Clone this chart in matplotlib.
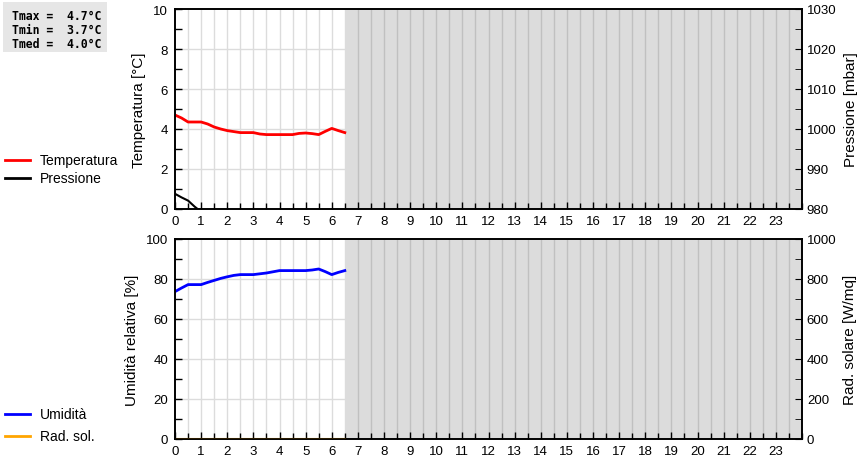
import matplotlib
matplotlib.use("Agg")
import matplotlib.pyplot as plt
from matplotlib.lines import Line2D
from matplotlib.patches import Rectangle
from matplotlib.ticker import MultipleLocator
import numpy as np

hours = [0, 0.25, 0.5, 0.75, 1.0, 1.25, 1.5, 1.75, 2.0, 2.25, 2.5, 2.75, 3.0, 3.25,
         3.5, 3.75, 4.0, 4.25, 4.5, 4.75, 5.0, 5.25, 5.5, 5.75, 6.0, 6.25, 6.5]
temperatura = [4.70, 4.55, 4.35, 4.35, 4.35, 4.25, 4.10, 4.00, 3.92, 3.87, 3.82, 3.82,
               3.82, 3.75, 3.72, 3.72, 3.72, 3.72, 3.72, 3.78, 3.80, 3.77, 3.72, 3.88,
               4.03, 3.92, 3.82]
pressione_hours = [0, 0.25, 0.5, 0.75, 1.0]
pressione = [983.8, 982.9, 982.1, 980.6, 979.3]
umidita = [73.7, 75.5, 77.2, 77.2, 77.2, 78.3, 79.3, 80.3, 81.1, 81.8, 82.2, 82.2,
           82.2, 82.6, 83.0, 83.6, 84.2, 84.2, 84.2, 84.2, 84.2, 84.5, 85.0, 83.7,
           82.2, 83.3, 84.2]
rad_sol = [0, 0, 0, 0, 0, 0, 0, 0, 0, 0, 0, 0, 0, 0, 0, 0, 0, 0, 0, 0, 0, 0, 0, 0,
           0, 0, 0]
hour_labels = [str(h) for h in range(24)]
stats_lines = ["Tmax =  4.7°C", "Tmin =  3.7°C", "Tmed =  4.0°C"]

plt.rcParams['font.family'] = ['Liberation Sans', 'DejaVu Sans']

W, H = 860, 460
fig = plt.figure(figsize=(8.6, 4.6), dpi=100)

def fx(px):
    return px / W

def fy(py):
    return 1 - py / H

left, right = 175, 802
ax1 = fig.add_axes([fx(left), fy(210), fx(right - left), (210 - 10) / H])
ax2 = fig.add_axes([fx(left), fy(440), fx(right - left), (440 - 240) / H])

now = 6.5
TICK_FS = 9.5
LABEL_FS = 11

def style(ax, ymin, ymax, major, minor):
    ax.set_xlim(0, 24)
    ax.set_ylim(ymin, ymax)
    ax.set_xticks(range(24))
    ax.set_xticklabels(hour_labels)
    ax.xaxis.set_minor_locator(MultipleLocator(0.5))
    ax.yaxis.set_major_locator(MultipleLocator(major))
    ax.yaxis.set_minor_locator(MultipleLocator(minor))
    ax.tick_params(which='both', direction='in', labelsize=TICK_FS, length=5, width=1)
    ax.tick_params(axis='x', which='minor', length=4)
    ax.tick_params(axis='x', pad=4)
    ax.tick_params(axis='y', pad=5)
    ax.set_axisbelow(False)
    # grid in the white (elapsed) part
    for xv in np.arange(0.5, now + 0.01, 0.5):
        ax.axvline(xv, color='#dcdcdc', lw=1, zorder=1)
    for yv in np.arange(ymin + major, ymax, major):
        ax.axhline(yv, color='#dcdcdc', lw=1, zorder=1)
    ax.axvspan(now, 24, color='#dcdcdc', zorder=1.2, lw=0)
    for xv in np.arange(now + 0.5, 24, 0.5):
        ax.axvline(xv, color='#c0c0c0', lw=1, zorder=1.3)
    for s in ax.spines.values():
        s.set_linewidth(1.2)
        s.set_zorder(5)

style(ax1, 0, 10, 2, 1)
style(ax2, 0, 100, 20, 10)

ax1.plot(hours, temperatura, color='#ff0000', lw=2, zorder=3)
ax1.set_ylabel('Temperatura [°C]', fontsize=LABEL_FS, labelpad=5)
ax1b = ax1.twinx()
ax1b.set_ylim(980, 1030)
ax1b.yaxis.set_major_locator(MultipleLocator(10))
ax1b.yaxis.set_minor_locator(MultipleLocator(5))
ax1b.tick_params(which='both', direction='in', labelsize=TICK_FS, length=5)
ax1b.plot(pressione_hours, pressione, color='#000000', lw=1.5, zorder=2)
ax1b.set_ylabel('Pressione [mbar]', fontsize=LABEL_FS, labelpad=5)

ax2.plot(hours, umidita, color='#0000ff', lw=2, zorder=3)
ax2.set_ylabel('Umidità relativa [%]', fontsize=LABEL_FS, labelpad=5)
ax2b = ax2.twinx()
ax2b.set_ylim(0, 1000)
ax2b.yaxis.set_major_locator(MultipleLocator(200))
ax2b.yaxis.set_minor_locator(MultipleLocator(100))
ax2b.tick_params(which='both', direction='in', labelsize=TICK_FS, length=5)
ax2b.plot(hours, rad_sol, color='#ffa500', lw=1.5, zorder=2)
ax2b.set_ylabel('Rad. solare [W/mq]', fontsize=LABEL_FS, labelpad=5)

for a in (ax1b, ax2b):
    for s in a.spines.values():
        s.set_linewidth(1.2)
        s.set_zorder(5)

# legends at the left
def legend_item(y, color, label):
    fig.add_artist(Line2D([fx(5), fx(30)], [fy(y), fy(y)], color=color, lw=2,
                          transform=fig.transFigure))
    fig.text(fx(40), fy(y), label, fontsize=10, va='center', ha='left')

legend_item(161, '#ff0000', 'Temperatura')
legend_item(179, '#000000', 'Pressione')
legend_item(415, '#0000ff', 'Umidità')
legend_item(437, '#ffa500', 'Rad. sol.')

# stats box
fig.add_artist(Rectangle((fx(3), fy(53)), fx(104), 50 / H, transform=fig.transFigure,
                         fc='#e6e6e6', ec='none'))
for yy, line in zip([17, 31, 44.5], stats_lines):
    fig.text(fx(12), fy(yy), line, fontsize=8.3, family='DejaVu Sans Mono',
             fontweight='bold', va='center', ha='left')

fig.savefig('out.png', dpi=100)
